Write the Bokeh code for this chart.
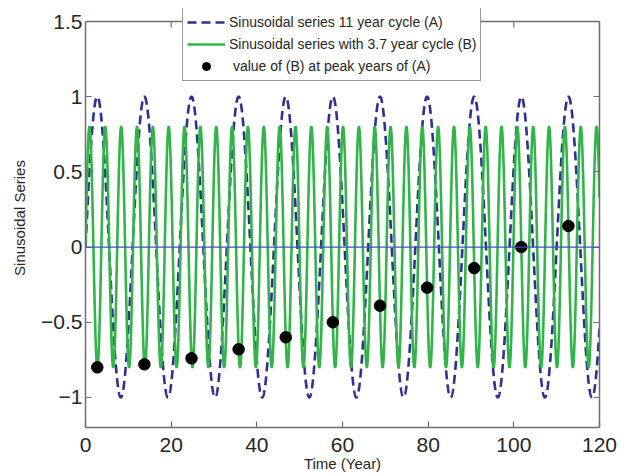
import numpy as np
from bokeh.plotting import figure
from bokeh.models import LinearAxis, Range1d, FixedTicker, Legend, LegendItem, Span
from bokeh.embed import file_html
from bokeh.resources import INLINE

# ---- data ----
year_start = 0.0
year_end = 120.0
cycle_a = 11.0      # years, series A
amp_a = 1.0
cycle_b = 3.7       # years, series B
amp_b = 0.8
peak_years = [2.75, 13.75, 24.75, 35.75, 46.75, 57.75, 68.75, 79.75, 90.75, 101.75, 112.75]
peak_values = [-0.80, -0.78, -0.74, -0.68, -0.60, -0.50, -0.39, -0.27, -0.14, 0.00, 0.14]
x_ticks = [0, 20, 40, 60, 80, 100, 120]
y_ticks = [-1, -0.5, 0, 0.5, 1, 1.5]
y_tick_labels = ["\u22121", "\u22120.5", "0", "0.5", "1", "1.5"]
legend_labels = ["Sinusoidal series 11 year cycle (A)",
                 "Sinusoidal series with 3.7 year cycle (B)",
                 " value of (B) at peak years of (A)"]
x_min, x_max = 0, 120
y_min, y_max = -1.2, 1.5

t = np.linspace(year_start, year_end, 4801)
series_a = amp_a * np.sin(2 * np.pi * t / cycle_a)
series_b = amp_b * np.sin(2 * np.pi * t / cycle_b)

FONT = "Liberation Sans"
AXIS_COLOR = "#6e6e6e"
TEXT_COLOR = "#262626"

# ---- layout (pixels) ----
W, H = 627, 474
AX_LEFT, AX_RIGHT, AX_TOP, AX_BOTTOM = 85, 599, 21, 427   # visible axes box
FRAME_TOP = 8                                              # frame reaches up to the legend top
px_per_unit = (AX_BOTTOM - AX_TOP) / (y_max - y_min)
y_frame_top = y_max + (AX_TOP - FRAME_TOP) / px_per_unit
tick_len = 6 / px_per_unit

p = figure(width=W, height=H, output_backend="svg", toolbar_location=None,
           x_range=Range1d(x_min, x_max), y_range=Range1d(y_min, y_frame_top),
           min_border_left=AX_LEFT, min_border_right=W - AX_RIGHT,
           min_border_top=FRAME_TOP, min_border_bottom=H - AX_BOTTOM)
p.grid.visible = False
p.outline_line_color = None
p.background_fill_color = "white"
p.border_fill_color = "white"

def style_axis(ax, show_labels=True):
    ax.axis_line_color = AXIS_COLOR
    ax.axis_line_width = 1.5
    ax.major_tick_line_color = AXIS_COLOR
    ax.major_tick_line_width = 1.2
    ax.major_tick_in = 6
    ax.major_tick_out = 0
    ax.minor_tick_line_color = None
    ax.major_label_text_font = FONT
    ax.major_label_text_font_size = "21px"
    ax.major_label_text_color = TEXT_COLOR
    ax.axis_label_text_font = FONT
    ax.axis_label_text_font_size = "15px"
    ax.axis_label_text_font_style = "normal"
    ax.axis_label_text_color = TEXT_COLOR
    if not show_labels:
        ax.major_label_text_font_size = "0px"
        ax.major_label_text_color = None
        ax.major_label_standoff = 0

p.xaxis.ticker = FixedTicker(ticks=x_ticks)
p.yaxis.ticker = FixedTicker(ticks=y_ticks)
p.yaxis.major_label_overrides = {v: s for v, s in zip(y_ticks, y_tick_labels)}
p.yaxis.bounds = (y_min, y_max)
p.xaxis.axis_label = "Time (Year)"
p.yaxis.axis_label = "Sinusoidal Series"
style_axis(p.xaxis[0])
style_axis(p.yaxis[0])
p.xaxis.major_label_standoff = 10
p.xaxis.axis_label_standoff = 0
p.yaxis.major_label_standoff = 3
p.yaxis.axis_label_standoff = 10

right_ax = LinearAxis(ticker=FixedTicker(ticks=y_ticks), bounds=(y_min, y_max))
style_axis(right_ax, False)
p.add_layout(right_ax, "right")

# top edge of the axes box and its inward ticks
p.add_layout(Span(location=y_max, dimension="width", line_color=AXIS_COLOR, line_width=1.5))
p.segment(x0=x_ticks, y0=[y_max] * len(x_ticks), x1=x_ticks, y1=[y_max - tick_len] * len(x_ticks),
          line_color=AXIS_COLOR, line_width=1.2)

r_a = p.line(t, series_a, line_color="#2e3192", line_width=2.6, line_dash="9 5")
r_b = p.line(t, series_b, line_color="#33b44a", line_width=2.6)
p.add_layout(Span(location=0, dimension="width", line_color="#4a4ac8", line_width=1.2))
r_c = p.scatter(peak_years, peak_values, size=11.5, fill_color="black", line_color="black")

LEG_H = 72
frame_h = H - (H - AX_BOTTOM) - FRAME_TOP
legend = Legend(items=[LegendItem(label=legend_labels[0], renderers=[r_a]),
                       LegendItem(label=legend_labels[1], renderers=[r_b]),
                       LegendItem(label=legend_labels[2], renderers=[r_c])],
                location=(182 - AX_LEFT, frame_h - LEG_H - 1))
legend.label_text_font = FONT
legend.label_text_font_size = "14px"
legend.label_text_color = TEXT_COLOR
legend.border_line_color = "#333333"
legend.border_line_width = 1.2
legend.background_fill_color = "white"
legend.background_fill_alpha = 1.0
legend.glyph_width = 38
legend.glyph_height = 20
legend.label_height = 20
legend.label_standoff = 4
legend.spacing = 2
legend.padding = 4
legend.margin = 0
p.add_layout(legend, "center")

open("out.html", "w").write(file_html(p, INLINE))
